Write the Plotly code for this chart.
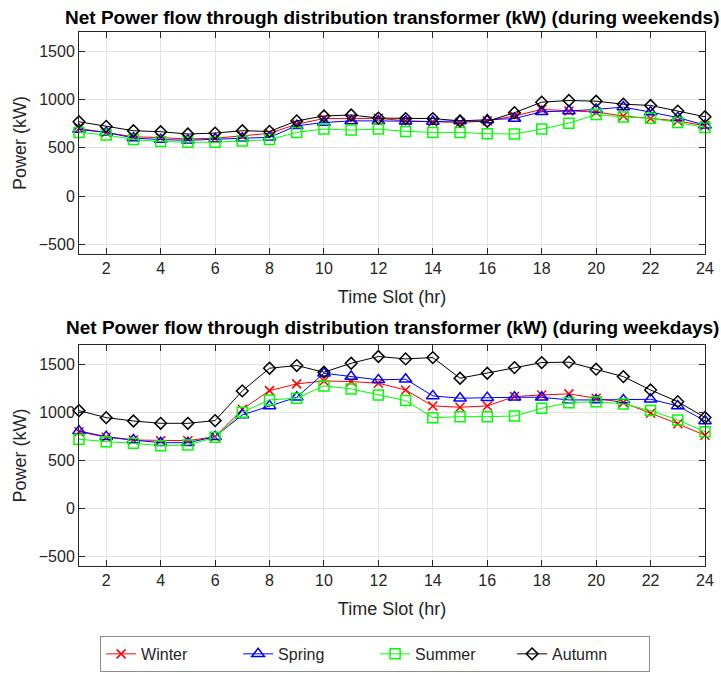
import plotly.graph_objects as go

# Hourly time slots
hours = list(range(1, 25))

# Net power flow during weekends (kW)
weekend_winter = [700, 660, 615, 605, 592, 599, 626, 650, 745, 803, 803, 806,
                  779, 769, 762, 779, 830, 898, 881, 870, 830, 803, 779, 728]
weekend_spring = [690, 660, 602, 585, 578, 592, 599, 609, 728, 762, 779, 779,
                  776, 772, 779, 789, 803, 874, 881, 898, 922, 870, 813, 735]
weekend_summer = [660, 633, 585, 565, 558, 558, 571, 585, 660, 694, 684, 694,
                  670, 660, 660, 646, 643, 694, 755, 844, 820, 806, 762, 711]
weekend_autumn = [770, 722, 677, 667, 643, 653, 677, 670, 779, 830, 840, 808,
                  803, 803, 779, 775, 864, 973, 990, 983, 952, 939, 881, 822]

# Net power flow during weekdays (kW)
weekday_winter = [798, 739, 711, 704, 704, 746, 1031, 1225, 1295, 1326, 1319, 1302,
                  1232, 1066, 1052, 1066, 1163, 1180, 1191, 1146, 1100, 990, 880, 760]
weekday_spring = [805, 746, 711, 683, 683, 746, 972, 1066, 1156, 1406, 1371, 1337,
                  1344, 1170, 1146, 1152, 1156, 1156, 1128, 1128, 1128, 1135, 1066, 910]
weekday_summer = [719, 694, 677, 652, 659, 739, 1000, 1128, 1146, 1274, 1243, 1180,
                  1121, 944, 954, 954, 961, 1041, 1100, 1110, 1087, 1017, 920, 798]
weekday_autumn = [1017, 944, 909, 885, 885, 913, 1222, 1458, 1486, 1417, 1510, 1580,
                  1555, 1569, 1354, 1406, 1465, 1517, 1521, 1448, 1371, 1232, 1110, 945]

x_ticks = list(range(2, 25, 2))
y_ticks = [-500, 0, 500, 1000, 1500]

series_names = ["Winter", "Spring", "Summer", "Autumn"]
colors = ["#FF0000", "#0000FF", "#00FF00", "#000000"]
symbols = ["x-thin-open", "triangle-up-open", "square-open", "diamond-open"]
sizes = [9, 11, 10, 9]

weekend = [weekend_winter, weekend_spring, weekend_summer, weekend_autumn]
weekday = [weekday_winter, weekday_spring, weekday_summer, weekday_autumn]

FONT = "Liberation Sans, Arial, Helvetica, sans-serif"
AXIS_COLOR = "#262626"

fig = go.Figure()

for panel, (data, xa, ya) in enumerate([(weekend, "x", "y"), (weekday, "x2", "y2")]):
    for name, vals, c, s, sz in zip(series_names, data, colors, symbols, sizes):
        fig.add_trace(go.Scatter(
            x=hours, y=vals, name=name, mode="lines+markers",
            line=dict(color=c, width=1),
            marker=dict(symbol=s, size=sz, color=c, line=dict(color=c, width=1.5)),
            xaxis=xa, yaxis=ya, cliponaxis=False,
            showlegend=(panel == 0),
        ))

axis_common = dict(
    showline=True, linecolor=AXIS_COLOR, linewidth=1, mirror="ticks",
    ticks="inside", ticklen=6, tickcolor=AXIS_COLOR, tickwidth=1,
    showgrid=True, gridcolor="#e3e3e3", gridwidth=1, zeroline=False,
    tickfont=dict(family=FONT, size=16, color=AXIS_COLOR),
)

x_common = dict(axis_common, range=[1, 24], tickvals=x_ticks, automargin=False,
                title=dict(text="Time Slot (hr)", font=dict(family=FONT, size=18, color=AXIS_COLOR),
                           standoff=14))
y_common = dict(axis_common, range=[-600, 1700], tickvals=y_ticks, automargin=False,
                title=dict(text="Power (kW)", font=dict(family=FONT, size=18, color=AXIS_COLOR),
                           standoff=7))

fig.update_layout(
    width=721, height=673,
    margin=dict(l=79, r=16, t=32, b=107, autoexpand=False),
    paper_bgcolor="white", plot_bgcolor="white",
    font=dict(family=FONT, color=AXIS_COLOR),
    xaxis=dict(x_common, domain=[0, 1], anchor="y"),
    yaxis=dict(y_common, domain=[0.5843, 1], anchor="x"),
    xaxis2=dict(x_common, domain=[0, 1], anchor="y2"),
    yaxis2=dict(y_common, domain=[0, 0.4139], anchor="x2"),
    legend=dict(
        orientation="h", x=0.473, xanchor="center", y=-0.131, yanchor="top",
        bordercolor="#8c8c8c", borderwidth=1, bgcolor="white",
        font=dict(family=FONT, size=16, color=AXIS_COLOR),
        entrywidth=92, entrywidthmode="pixels",
    ),
    showlegend=True,
)

titles = [
    ("Net Power flow through distribution transformer (kW) (during weekends)", 1.028),
    ("Net Power flow through distribution transformer (kW) (during weekdays)", 0.4457),
]
for text, yp in titles:
    fig.add_annotation(text=f"<b>{text}</b>", xref="paper", yref="paper",
                       x=0.5, y=yp, xanchor="center", yanchor="middle", showarrow=False,
                       font=dict(family=FONT, size=19, color="#000000"))

fig.write_html("out.html")
